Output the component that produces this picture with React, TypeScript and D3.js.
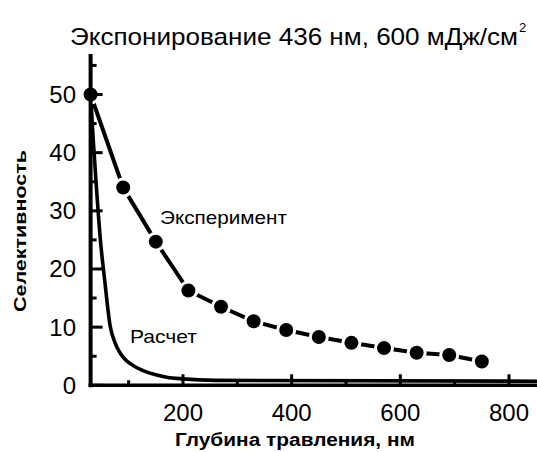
import React from "react";
import * as d3 from "d3";

const expX = [30, 90, 150, 210, 270, 330, 390, 450, 510, 570, 630, 690, 750];
const expY = [50, 34, 24.7, 16.3, 13.5, 11.0, 9.5, 8.3, 7.3, 6.4, 5.6, 5.2, 4.1];

const calcX = [30, 35, 40, 48, 56, 66, 75, 84, 95, 112, 130, 150, 170, 200, 260, 880];
const calcY = [50, 42, 35, 25, 18, 10.2, 7.3, 5.6, 4.3, 3.2, 2.4, 1.8, 1.4, 1.1, 0.85, 0.7];

const xMajor = [200, 400, 600, 800];
const xMinor = [100, 300, 500, 700];
const yMajor = [0, 10, 20, 30, 40, 50];
const yMinor = [5, 15, 25, 35, 45, 55];

const title = "Экспонирование 436 нм, 600 мДж/см";
const xTitle = "Глубина травления, нм";
const yTitle = "Селективность";
const expLabel = "Эксперимент";
const calcLabel = "Расчет";

export default function App() {
  const W = 537, H = 452;
  const x = d3.scaleLinear().domain([0, 800]).range([74.3, 509]);
  const y = d3.scaleLinear().domain([0, 50]).range([385.3, 94.5]);
  const x0 = x(30);
  const y0 = y(0);

  const expPts: [number, number][] = expX.map((v, i) => [v, expY[i]]);
  const calcPts: [number, number][] = calcX.map((v, i) => [v, calcY[i]]);
  const line = d3.line<[number, number]>().x(d => x(d[0])).y(d => y(d[1]));
  const calcLine = d3.line<[number, number]>().x(d => x(d[0])).y(d => y(d[1])).curve(d3.curveMonotoneX);

  const font = "'Liberation Sans', Arial, sans-serif";
  return (
    <svg width={W} height={H} style={{ position: "absolute", left: 0, top: 0, background: "#fff" }} fontFamily={font}>
      <rect width={W} height={H} fill="#fff" />
      <text x={70} y={45} fontSize={24} fill="#000" textLength={448} lengthAdjust="spacingAndGlyphs">
        {title}
      </text>
      <text x={519} y={32} fontSize={13} fill="#000">2</text>
      <path d={calcLine(calcPts) || ""} fill="none" stroke="#000" strokeWidth={3.6} />
      <path d={line(expPts) || ""} fill="none" stroke="#000" strokeWidth={4} />
      {expPts.map((d, i) => (
        <circle key={"h" + i} cx={x(d[0])} cy={y(d[1])} r={10} fill="#fff" />
      ))}
      {expPts.map((d, i) => (
        <circle key={"c" + i} cx={x(d[0])} cy={y(d[1])} r={7} fill="#000" />
      ))}
      {/* axes */}
      <line x1={x0} x2={x0} y1={54} y2={y0 + 2} stroke="#000" strokeWidth={4} />
      <line x1={x0 - 2} x2={W + 5} y1={y0} y2={y0} stroke="#000" strokeWidth={3.5} />
      {yMajor.map(v => (
        <line key={"ym" + v} x1={x0} x2={x0 + 12} y1={y(v)} y2={y(v)} stroke="#000" strokeWidth={3} />
      ))}
      {yMinor.map(v => (
        <line key={"yn" + v} x1={x0} x2={x0 + 6} y1={y(v)} y2={y(v)} stroke="#000" strokeWidth={3} />
      ))}
      {xMajor.map(v => (
        <line key={"xm" + v} x1={x(v)} x2={x(v)} y1={y0} y2={y0 - 11} stroke="#000" strokeWidth={3} />
      ))}
      {xMinor.map(v => (
        <line key={"xn" + v} x1={x(v)} x2={x(v)} y1={y0} y2={y0 - 5} stroke="#000" strokeWidth={3} />
      ))}
      {yMajor.map(v => (
        <text key={"yl" + v} x={76} y={y(v) + 8.5} fontSize={24} textAnchor="end" fill="#000">{v}</text>
      ))}
      {xMajor.map(v => (
        <text key={"xl" + v} x={x(v)} y={421} fontSize={24} textAnchor="middle" fill="#000">{v}</text>
      ))}
      <text x={175} y={446} fontSize={18} fontWeight="bold" fill="#000" textLength={240} lengthAdjust="spacingAndGlyphs">{xTitle}</text>
      <text transform={`translate(26,${231}) rotate(-90)`} x={-81} fontSize={17} fontWeight="bold" fill="#000" textLength={162} lengthAdjust="spacingAndGlyphs">{yTitle}</text>
      <text x={160} y={224} fontSize={19} fill="#000" textLength={127} lengthAdjust="spacingAndGlyphs">{expLabel}</text>
      <text x={130} y={343} fontSize={19} fill="#000" textLength={67} lengthAdjust="spacingAndGlyphs">{calcLabel}</text>
    </svg>
  );
}
